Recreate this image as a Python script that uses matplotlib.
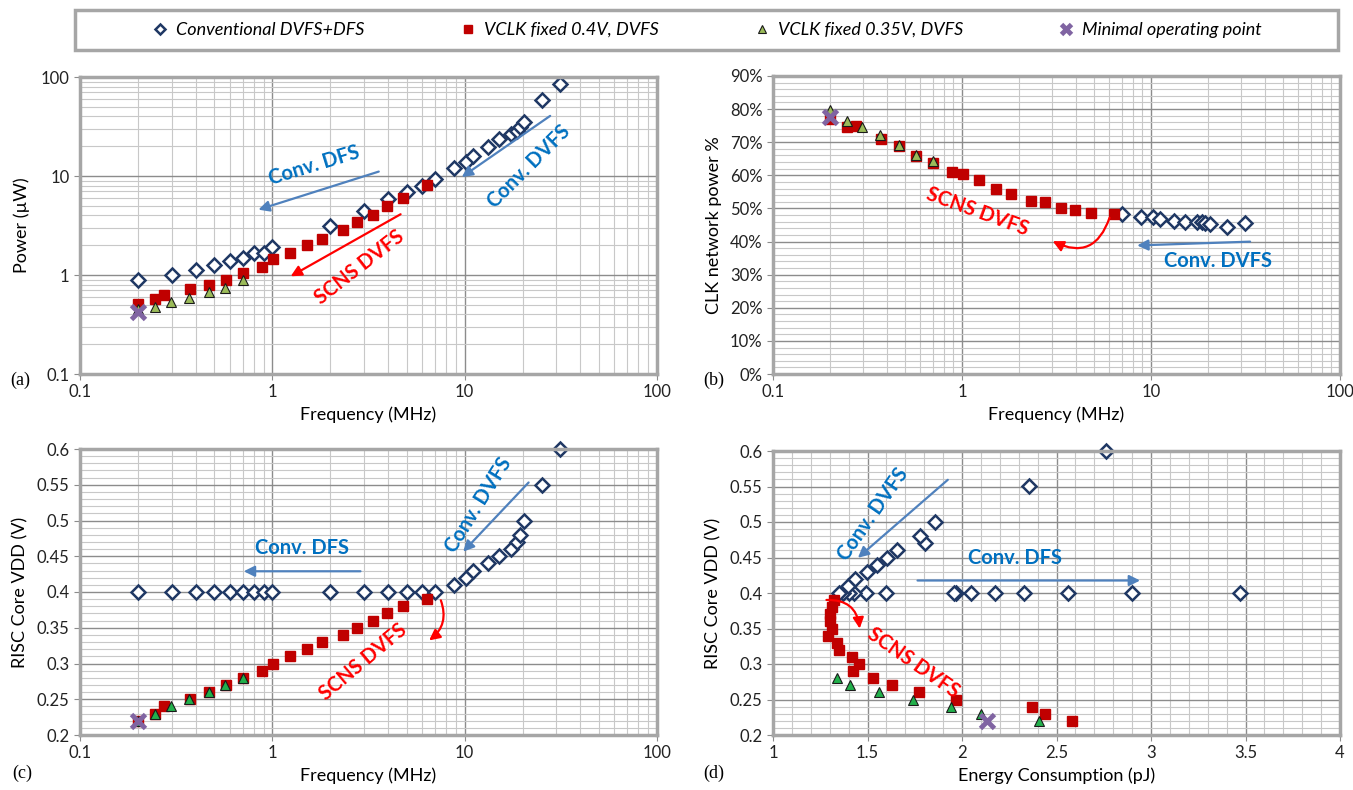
import numpy as np
import matplotlib
matplotlib.use('Agg')
from matplotlib import pyplot as plt
from matplotlib.ticker import MultipleLocator, LogLocator, NullFormatter

plt.rcParams['font.family'] = ['Lato', 'DejaVu Sans']

# ---- data ----
# conventional DVFS+DFS (diamonds)
conv_freq = [0.2, 0.3, 0.4, 0.5, 0.6, 0.7, 0.8, 0.9, 1.0, 2, 3, 4, 5, 6, 7,
             8.8, 10.2, 11.1, 13.3, 15.1, 17.5, 18.7, 19.4, 20.4, 25.1, 31.3]
conv_power = [0.88, 1.0, 1.12, 1.25, 1.39, 1.48, 1.65, 1.68, 1.93, 3.1, 4.4, 5.8, 6.9, 8.0, 9.3,
              12, 14, 16, 19.6, 23.6, 26.7, 28.8, 31.6, 35.5, 58.6, 84]
conv_clk = [np.nan] * 14 + [48.2, 47.5, 47.5, 46.8, 46.3, 46.0, 45.8, 45.8, 45.5, 45.2, 44.5, 45.7]
conv_vdd = [0.4] * 15 + [0.41, 0.42, 0.43, 0.44, 0.45, 0.46, 0.47, 0.48, 0.50, 0.55, 0.60]
conv_energy = [4.4, 3.47, 2.90, 2.56, 2.33, 2.175, 2.05, 1.97, 1.96, 1.60, 1.49, 1.43, 1.40, 1.37, 1.35,
               1.395, 1.434, 1.496, 1.551, 1.603, 1.658, 1.805, 1.778, 1.857, 2.356, 2.764]

# VCLK fixed 0.4V, DVFS (red squares)
v04_freq = [0.2, 0.246, 0.275, 0.373, 0.466, 0.573, 0.705, 0.88, 1.01, 1.23, 1.52, 1.82,
            2.32, 2.74, 3.33, 3.96, 4.79, 6.37]
v04_power = [0.507, 0.578, 0.624, 0.718, 0.787, 0.89, 1.05, 1.21, 1.44, 1.68, 2.0, 2.32,
             2.84, 3.42, 4.08, 4.95, 6.0, 8.18]
v04_clk = [77.0, 74.6, 74.8, 71.1, 68.8, 65.8, 63.6, 61.0, 60.3, 58.7, 56.0, 54.5,
           52.2, 51.8, 50.2, 49.5, 48.7, 48.2]
v04_vdd = [0.22, 0.23, 0.24, 0.25, 0.26, 0.27, 0.28, 0.29, 0.30, 0.31, 0.32, 0.33,
           0.34, 0.35, 0.36, 0.37, 0.38, 0.39]
v04_energy = [2.58, 2.44, 2.37, 1.97, 1.77, 1.63, 1.53, 1.425, 1.457, 1.416, 1.351, 1.34,
              1.293, 1.31, 1.30, 1.30, 1.31, 1.323]

# VCLK fixed 0.35V, DVFS (green triangles)
v035_freq = [0.2, 0.246, 0.296, 0.37, 0.466, 0.57, 0.70]
v035_power = [0.45, 0.48, 0.53, 0.58, 0.67, 0.745, 0.89]
v035_clk = [79.6, 76.3, 74.6, 72.1, 69.1, 66.1, 64.4]
v035_vdd = [0.22, 0.23, 0.24, 0.25, 0.26, 0.27, 0.28]
v035_energy = [2.41, 2.10, 1.94, 1.74, 1.56, 1.41, 1.34]

# minimal operating point
min_freq = [0.2]
min_power = [0.42]
min_clk = [77.6]
min_vdd = [0.22]
min_energy = [2.13]

labels = ['Conventional DVFS+DFS', 'VCLK fixed 0.4V, DVFS',
          'VCLK fixed 0.35V, DVFS', 'Minimal operating point']

W, H = 1353, 790
fig = plt.figure(figsize=(W / 100, H / 100), dpi=100)


def box(l, t, r, b):
    return [l / W, 1 - b / H, (r - l) / W, (b - t) / H]


navy = '#1f3864'
red = '#c00000'
olive = '#9bbb59'
bgreen = '#22b04b'
purple = '#8064a2'
blue_t = '#0070c0'
blue_a = '#4f81bd'
bright = '#ff0000'


def style(ax):
    for s in ax.spines.values():
        s.set_color('#a6a6a6')
        s.set_linewidth(2.5)
    ax.grid(True, which='major', color='#8c8c8c', lw=1.0)
    ax.grid(True, which='minor', color='#c8c8c8', lw=0.8)
    ax.set_axisbelow(True)
    ax.tick_params(which='major', length=4, color='#8c8c8c', labelsize=12, labelcolor='#222222')
    ax.tick_params(which='minor', length=0)


def series(ax, x, y, green):
    ax.plot(x[0], y[0], 'D', ms=7, mfc='white', mec=navy, mew=1.8, ls='none',
            label=labels[0], clip_on=False)
    ax.plot(x[1], y[1], 's', ms=7.5, mfc=red, mec=red, ls='none', label=labels[1], clip_on=False)
    ax.plot(x[2], y[2], '^', ms=7.5, mfc=green, mec='#1a1a1a', mew=0.8, ls='none',
            label=labels[2], clip_on=False)
    ax.plot(x[3], y[3], 'x', ms=10, mec=purple, mew=3.5, ls='none', label=labels[3], clip_on=False)


def arrow(ax, start, end, color, rad=0.0):
    ax.annotate('', xy=end, xytext=start,
                arrowprops=dict(arrowstyle='-|>', color=color, lw=1.6, mutation_scale=16,
                                connectionstyle='arc3,rad=%s' % rad))


def note(ax, x, y, s, color, rot):
    ax.text(x, y, s, color=color, fontsize=14.5, fontweight='bold', rotation=rot,
            ha='center', va='center', rotation_mode='anchor')


freq_ticks = [0.1, 1, 10, 100]
freq_labels = ['0.1', '1', '10', '100']

# (a) power vs frequency
ax = fig.add_axes(box(80, 77, 657, 374))
style(ax)
ax.set_xscale('log')
ax.set_yscale('log')
ax.set_xlim(0.1, 100)
ax.set_ylim(0.1, 100)
ax.xaxis.set_minor_locator(LogLocator(subs=np.arange(2, 10)))
ax.yaxis.set_minor_locator(LogLocator(subs=np.arange(2, 10)))
ax.xaxis.set_minor_formatter(NullFormatter())
ax.yaxis.set_minor_formatter(NullFormatter())
ax.set_xticks(freq_ticks, freq_labels)
ax.set_yticks([0.1, 1, 10, 100], ['0.1', '1', '10', '100'])
series(ax, [conv_freq, v04_freq, v035_freq, min_freq],
       [conv_power, v04_power, v035_power, min_power], olive)
ax.set_xlabel('Frequency (MHz)', fontsize=13, labelpad=4)
ax.set_ylabel('Power (\u00b5W)', fontsize=13, labelpad=8)
note(ax, 1.65, 12.7, 'Conv. DFS', blue_t, 17)
arrow(ax, (3.69, 11.3), (0.82, 4.48), blue_a)
note(ax, 21.5, 12.5, 'Conv. DVFS', blue_t, 45)
arrow(ax, (28.6, 42), (9.4, 9.4), blue_a)
note(ax, 2.85, 1.19, 'SCNS DVFS', bright, 38)
arrow(ax, (4.78, 4.24), (1.21, 0.94), bright)
fig.text(10 / W, 1 - 380 / H, '(a)', family='Liberation Serif', fontsize=13, va='center')

# (b) clock network power share
ax = fig.add_axes(box(773, 76, 1340, 374))
style(ax)
ax.set_xscale('log')
ax.set_xlim(0.1, 100)
ax.set_ylim(0, 90)
ax.xaxis.set_minor_locator(LogLocator(subs=np.arange(2, 10)))
ax.xaxis.set_minor_formatter(NullFormatter())
ax.set_xticks(freq_ticks, freq_labels)
ax.yaxis.set_minor_locator(MultipleLocator(2))
ax.set_yticks(np.arange(0, 91, 10), ['%d%%' % v for v in range(0, 91, 10)])
series(ax, [conv_freq, v04_freq, v035_freq, min_freq],
       [conv_clk, v04_clk, v035_clk, min_clk], olive)
ax.set_xlabel('Frequency (MHz)', fontsize=13, labelpad=4)
ax.set_ylabel('CLK network power %', fontsize=13, labelpad=6)
note(ax, 1.2, 49, 'SCNS DVFS', bright, -20)
arrow(ax, (6.1, 48), (2.93, 40.5), bright, -0.6)
note(ax, 22.7, 34.1, 'Conv. DVFS', blue_t, 0)
arrow(ax, (34.6, 40), (8.17, 38.8), blue_a)
fig.text(703 / W, 1 - 380 / H, '(b)', family='Liberation Serif', fontsize=13, va='center')

# (c) VDD vs frequency
ax = fig.add_axes(box(80, 449, 657, 735))
style(ax)
ax.set_xscale('log')
ax.set_xlim(0.1, 100)
ax.set_ylim(0.2, 0.6)
ax.xaxis.set_minor_locator(LogLocator(subs=np.arange(2, 10)))
ax.xaxis.set_minor_formatter(NullFormatter())
ax.set_xticks(freq_ticks, freq_labels)
vdd_ticks = np.arange(0.2, 0.601, 0.05)
ax.set_yticks(vdd_ticks, ['%g' % round(v, 2) for v in vdd_ticks])
ax.yaxis.set_minor_locator(MultipleLocator(0.01))
series(ax, [conv_freq, v04_freq, v035_freq, min_freq],
       [conv_vdd, v04_vdd, v035_vdd, min_vdd], bgreen)
ax.set_xlabel('Frequency (MHz)', fontsize=13, labelpad=4)
ax.set_ylabel('RISC Core VDD (V)', fontsize=13, labelpad=6)
note(ax, 1.43, 0.4615, 'Conv. DFS', blue_t, 0)
arrow(ax, (2.97, 0.429), (0.687, 0.429), blue_a)
note(ax, 11.8, 0.522, 'Conv. DVFS', blue_t, 58)
arrow(ax, (22, 0.556), (9.6, 0.4536), blue_a)
note(ax, 2.97, 0.302, 'SCNS DVFS', bright, 40)
arrow(ax, (7.43, 0.392), (6.36, 0.33), bright, -0.4)
fig.text(12 / W, 1 - 773 / H, '(c)', family='Liberation Serif', fontsize=13, va='center')

# (d) VDD vs energy
ax = fig.add_axes(box(773, 451, 1340, 735))
style(ax)
ax.set_xlim(1, 4)
ax.set_ylim(0.2, 0.6)
e_ticks = np.arange(1, 4.01, 0.5)
ax.set_xticks(e_ticks, ['%g' % v for v in e_ticks])
ax.xaxis.set_minor_locator(MultipleLocator(0.1))
ax.set_yticks(vdd_ticks, ['%g' % round(v, 2) for v in vdd_ticks])
ax.yaxis.set_minor_locator(MultipleLocator(0.01))
# the 0.2 MHz conventional point lies beyond 4 pJ, so it stays off the chart
conv_e_shown = np.where(np.array(conv_energy) <= 4, conv_energy, np.nan)
series(ax, [conv_e_shown, v04_energy, v035_energy, min_energy],
       [conv_vdd, v04_vdd, v035_vdd, min_vdd], bgreen)
ax.set_xlabel('Energy Consumption (pJ)', fontsize=13, labelpad=4)
ax.set_ylabel('RISC Core VDD (V)', fontsize=13, labelpad=6)
note(ax, 1.528, 0.511, 'Conv. DVFS', blue_t, 55)
arrow(ax, (1.936, 0.562), (1.438, 0.447), blue_a)
note(ax, 2.283, 0.45, 'Conv. DFS', blue_t, 0)
arrow(ax, (1.75, 0.4176), (2.957, 0.4176), blue_a)
note(ax, 1.744, 0.301, 'SCNS DVFS', bright, -35)
arrow(ax, (1.268, 0.39), (1.46, 0.346), bright, -0.5)
fig.text(703 / W, 1 - 773 / H, '(d)', family='Liberation Serif', fontsize=13, va='center')

# shared legend across the top
handles, labs = ax.get_legend_handles_labels()
leg = fig.legend(handles, labs, loc='center', ncol=4,
                 bbox_to_anchor=(75 / W, 1 - 50 / H, 1263 / W, 40 / H),
                 prop={'style': 'italic', 'size': 13}, markerscale=0.75,
                 handlelength=1.0, handletextpad=0.4, columnspacing=5.2,
                 borderaxespad=0, fancybox=False, frameon=False)
leg.legend_handles[2].set_markerfacecolor(olive)
fig.patches.append(plt.Rectangle((75 / W, 1 - 50 / H), 1263 / W, 40 / H, transform=fig.transFigure,
                                 fill=False, edgecolor='#a6a6a6', lw=2.5))

fig.savefig('out.png', dpi=100)
